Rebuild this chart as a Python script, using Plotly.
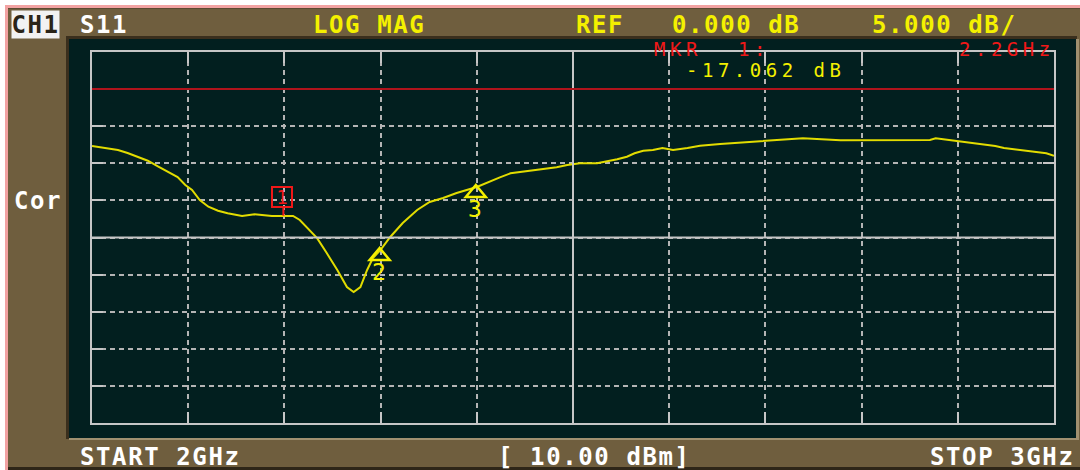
import plotly.graph_objects as go
import numpy as np

# ---------------- data ----------------
freq_ghz = [2.000, 2.010, 2.027, 2.037, 2.048, 2.058, 2.069, 2.079, 2.089, 2.097,
            2.104, 2.112, 2.121, 2.131, 2.141, 2.156, 2.169, 2.187, 2.200, 2.209,
            2.216, 2.225, 2.234, 2.244, 2.255, 2.265, 2.272, 2.279, 2.286, 2.292,
            2.300, 2.310, 2.323, 2.338, 2.351, 2.365, 2.379, 2.400, 2.414, 2.424,
            2.435, 2.452, 2.469, 2.483, 2.494, 2.507, 2.525, 2.535, 2.546, 2.556,
            2.564, 2.573, 2.583, 2.593, 2.604, 2.619, 2.632, 2.653, 2.684, 2.712,
            2.739, 2.778, 2.830, 2.871, 2.877, 2.892, 2.911, 2.928, 2.939, 2.948,
            2.965, 2.981, 2.992, 3.000]
s11_db = [-7.67, -7.90, -8.21, -8.61, -9.15, -9.65, -10.46, -11.13, -11.85, -12.92,
          -13.60, -14.95, -15.85, -16.39, -16.74, -17.10, -16.87, -17.10, -17.06, -17.10,
          -17.64, -18.86, -20.08, -22.10, -24.38, -26.68, -27.35, -26.68, -24.38, -22.76,
          -21.68, -19.93, -18.05, -16.29, -15.22, -14.68, -14.00, -13.19, -12.39, -11.89,
          -11.35, -11.04, -10.81, -10.54, -10.23, -10.00, -10.00, -9.78, -9.46, -9.11,
          -8.65, -8.30, -8.21, -7.94, -8.21, -7.94, -7.63, -7.40, -7.13, -6.90,
          -6.63, -6.90, -6.90, -6.86, -6.63, -6.86, -7.17, -7.40, -7.67, -7.94,
          -8.21, -8.44, -8.65, -8.98]
mkr_freq = [2.2, 2.3, 2.4]
mkr_label = ["1", "2", "3"]
x_range = [2.0, 3.0]
y_range = [-45.0, 5.0]
x_div = 0.1
y_div = 5.0
ref_level = 0.0

# header / footer texts
txt_ch = "CH1"
txt_param = "S11"
txt_fmt = "LOG MAG"
txt_ref = "REF"
txt_ref_val = "0.000 dB"
txt_scale = "5.000 dB/"
txt_mkr = "MKR"
txt_mkr_no = "1:"
txt_mkr_freq = "2.2GHz"
txt_mkr_val = "-17.062 dB"
txt_cor = "Cor"
txt_start = "START 2GHz"
txt_power = "[ 10.00 dBm]"
txt_stop = "STOP 3GHz"

# ---------------- style ----------------
W, H = 1080, 470
L, R, T, B = 92, 26, 52, 47
BROWN = "#6f5e3e"
SCREEN = "#021f1f"
GRID = "#b4b4b4"
FRAME = "#c6c6c6"
YEL = "#f4f000"
TRACE = "#e2dc00"
RED = "#f01818"
REFRED = "#b0141c"
MONO = "DejaVu Sans Mono"

def px(x):
    return (x - L) / (W - L - R)

def py(y):
    return (H - B - y) / (H - T - B)

mkr_val = list(np.interp(mkr_freq, freq_ghz, s11_db))

fig = go.Figure()
fig.add_trace(go.Scatter(x=freq_ghz, y=s11_db, mode="lines",
                         line=dict(color=TRACE, width=2), hoverinfo="skip",
                         showlegend=False))

shapes = []

def prect(x0, y0, x1, y1, color):
    shapes.append(dict(type="rect", xref="paper", yref="paper",
                       x0=px(x0), x1=px(x1), y0=py(y1), y1=py(y0),
                       fillcolor=color, line=dict(width=0), layer="below"))

prect(5, 5, 1080, 470, "#f2a2a2")
prect(8, 8, 1080, 470, BROWN)
prect(8, 8, 1080, 9, "#5a4a30")
prect(8, 467, 1080, 470, "#2e2618")
prect(66, 36, 1077, 439, "#3a2f1d")
prect(69, 39, 1079, 440, "#a09070")
prect(69, 39, 1076, 438, SCREEN)

# solid centre graticule lines
xc = (x_range[0] + x_range[1]) / 2
yc = (y_range[0] + y_range[1]) / 2
shapes.append(dict(type="line", xref="x", yref="y", x0=xc, x1=xc,
                   y0=y_range[0], y1=y_range[1], line=dict(color=FRAME, width=2),
                   layer="above"))
shapes.append(dict(type="line", xref="x", yref="y", x0=x_range[0], x1=x_range[1],
                   y0=yc, y1=yc, line=dict(color=FRAME, width=2), layer="above"))
# reference line
shapes.append(dict(type="line", xref="x", yref="y", x0=x_range[0], x1=x_range[1],
                   y0=ref_level, y1=ref_level, line=dict(color=REFRED, width=2),
                   layer="above"))
# reference pointer
shapes.append(dict(type="path", xref="x", yref="y", xsizemode="pixel",
                   ysizemode="pixel", xanchor=x_range[0], yanchor=ref_level,
                   path="M0,0 L-9,7 L-9,-7 Z", fillcolor=YEL,
                   line=dict(color=YEL, width=1), layer="above"))
shapes.append(dict(type="circle", xref="x", yref="y", xsizemode="pixel",
                   ysizemode="pixel", xanchor=x_range[0], yanchor=ref_level,
                   x0=-7, x1=-4, y0=-1.5, y1=1.5, fillcolor=SCREEN,
                   line=dict(width=0), layer="above"))

annotations = []

# marker 1: red box with stem
shapes.append(dict(type="line", xref="x", yref="y", xsizemode="pixel",
                   ysizemode="pixel", xanchor=mkr_freq[0], yanchor=mkr_val[0],
                   x0=-1, x1=-1, y0=0, y1=9, line=dict(color=RED, width=2),
                   layer="above"))
annotations.append(dict(xref="x", yref="y", x=mkr_freq[0], y=mkr_val[0],
                        text=mkr_label[0], showarrow=False, xshift=-2, yshift=19,
                        width=18, height=18, borderwidth=2, bordercolor=RED,
                        borderpad=0, font=dict(family=MONO, size=19, color=RED)))
# markers 2, 3: open triangles + numbers
for f, v, lab in zip(mkr_freq[1:], mkr_val[1:], mkr_label[1:]):
    shapes.append(dict(type="path", xref="x", yref="y", xsizemode="pixel",
                       ysizemode="pixel", xanchor=f, yanchor=v,
                       path="M-1,2 L-11,-10 L9,-10 Z", fillcolor="rgba(0,0,0,0)",
                       line=dict(color=YEL, width=2.5), layer="above"))
    annotations.append(dict(xref="x", yref="y", x=f, y=v, text=lab,
                            showarrow=False, xshift=-2, yshift=-22,
                            font=dict(family=MONO, size=23, color=YEL)))

def label(text, x, y, color, size=24, bold=True, ls=1.6, xanchor="left", **kw):
    annotations.append(dict(
        xref="paper", yref="paper", x=px(x), y=py(y), xanchor=xanchor,
        yanchor="middle", showarrow=False,
        text=f'<span style="letter-spacing:{ls}px">{text}</span>',
        font=dict(family=MONO, size=size, color=color,
                  weight="bold" if bold else "normal"), **kw))

label(txt_ch, 11, 25, "#2a2418", bgcolor="#f2f2f2", width=47, height=27,
      borderpad=0, align="center")
label(txt_param, 78, 25, "#ffffff")
label(txt_fmt, 311, 25, YEL)
label(txt_ref, 574, 25, YEL)
label(txt_ref_val, 670, 25, YEL)
label(txt_scale, 870, 25, YEL)
label(txt_mkr, 653, 49, RED, size=19, bold=False, ls=4.5, height=15, borderpad=0)
label(txt_mkr_no, 737, 49, RED, size=19, bold=False, ls=4.5, height=15, borderpad=0)
label(txt_mkr_freq, 1056, 49, RED, size=19, bold=False, ls=4.5, xanchor="right",
      height=15, borderpad=0)
label(txt_mkr_val, 685, 70, YEL, size=19, bold=False, ls=4.5, height=15, borderpad=0)
label(txt_cor, 12, 201, "#ffffff")
label(txt_start, 78, 457, "#ffffff")
label(txt_power, 496, 457, "#ffffff")
label(txt_stop, 928, 457, "#ffffff")

axis_common = dict(showgrid=True, gridcolor=GRID, gridwidth=2, griddash="5px,4px",
                   showline=True, linecolor=FRAME, linewidth=2, mirror="ticks",
                   ticks="inside", ticklen=11, tickwidth=2, tickcolor=FRAME,
                   showticklabels=False, zeroline=False, fixedrange=True)

fig.update_layout(
    width=W, height=H,
    margin=dict(l=L, r=R, t=T, b=B),
    paper_bgcolor="#ffffff",
    plot_bgcolor=SCREEN,
    xaxis=dict(range=x_range, tick0=x_range[0], dtick=x_div, **axis_common),
    yaxis=dict(range=y_range, tick0=ref_level, dtick=y_div, **axis_common),
    shapes=shapes,
    annotations=annotations,
    showlegend=False,
)

fig.write_html("out.html", config={"displayModeBar": False},
               post_script="document.body.style.margin='0';"
                           "document.body.style.overflow='hidden';")
